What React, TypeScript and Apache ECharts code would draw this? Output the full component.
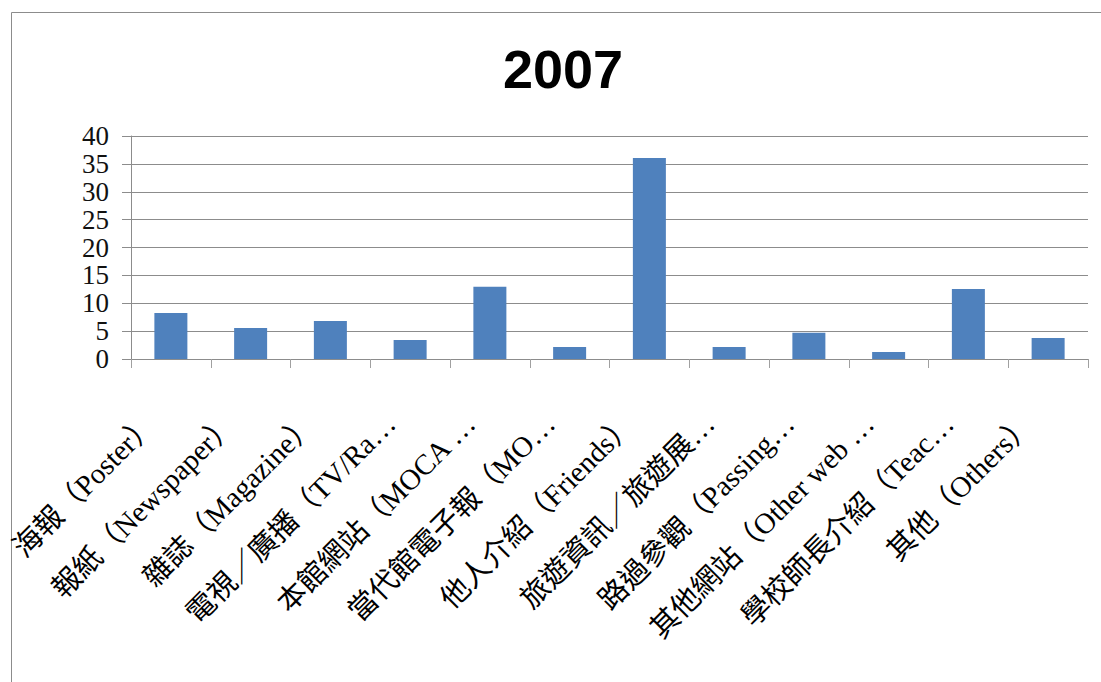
import React, { useEffect, useRef } from "react";
import * as echarts from "echarts";

const title = "2007";
const categories = [
  "海報（Poster）",
  "報紙（Newspaper）",
  "雜誌（Magazine）",
  "電視／廣播（TV/Ra…",
  "本館網站（MOCA …",
  "當代館電子報（MO…",
  "他人介紹（Friends）",
  "旅遊資訊／旅遊展…",
  "路過參觀（Passing…",
  "其他網站（Other web …",
  "學校師長介紹（Teac…",
  "其他（Others）",
];
const values = [8.25, 5.56, 6.8, 3.4, 12.97, 2.15, 36.05, 2.15, 4.72, 1.26, 12.56, 3.77];
const yTicks = { min: 0, max: 40, interval: 5 };

export default function App() {
  const ref = useRef<HTMLDivElement>(null);
  useEffect(() => {
    if (!ref.current) return;
    const chart = echarts.init(ref.current, null, { renderer: "svg" });
    const serif = "'Liberation Serif', 'Noto Sans CJK TC', serif";
    chart.setOption({
      animation: false,
      backgroundColor: "#ffffff",
      title: {
        text: title,
        left: 558,
        top: 37,
        textAlign: "center",
        textStyle: {
          fontFamily: "'Liberation Sans', Arial, sans-serif",
          fontWeight: "bold",
          fontSize: 54,
          color: "#000000",
        },
      },
      graphic: [
        {
          type: "line",
          shape: { x1: 11.5, y1: 12.5, x2: 1101, y2: 12.5 },
          style: { stroke: "#8c8c8c", lineWidth: 1 },
          silent: true,
        },
        {
          type: "line",
          shape: { x1: 11.5, y1: 12.5, x2: 11.5, y2: 682 },
          style: { stroke: "#8c8c8c", lineWidth: 1 },
          silent: true,
        },
      ],
      grid: {
        left: 131,
        right: 13,
        top: 136,
        bottom: 323,
        containLabel: false,
        outerBoundsMode: "none",
      },
      xAxis: {
        type: "category",
        data: categories,
        boundaryGap: true,
        axisLine: { show: true, lineStyle: { color: "#8c8c8c", width: 1 } },
        axisTick: { show: true, length: 9, lineStyle: { color: "#a0a0a0" } },
        axisLabel: {
          interval: 0,
          rotate: 45,
          margin: 40,
          padding: [0, 28, 0, 0],
          fontFamily: serif,
          fontSize: 29,
          color: "#000000",
        },
      },
      yAxis: {
        type: "value",
        min: yTicks.min,
        max: yTicks.max,
        interval: yTicks.interval,
        axisLine: { show: true, lineStyle: { color: "#8c8c8c", width: 1 } },
        axisTick: { show: true, length: 9, lineStyle: { color: "#8c8c8c" } },
        splitLine: { show: true, lineStyle: { color: "#8c8c8c", width: 1 } },
        axisLabel: {
          margin: 22,
          showMinLabel: true,
          showMaxLabel: true,
          hideOverlap: false,
          fontFamily: serif,
          fontSize: 27,
          lineHeight: 27,
          color: "#111111",
        },
      },
      series: [
        {
          type: "bar",
          data: values,
          barWidth: 33,
          itemStyle: { color: "#4f81bd" },
        },
      ],
    });
    return () => chart.dispose();
  }, []);
  return (
    <div
      ref={ref}
      style={{ position: "fixed", left: 0, top: 0, width: 1101, height: 682 }}
    />
  );
}
